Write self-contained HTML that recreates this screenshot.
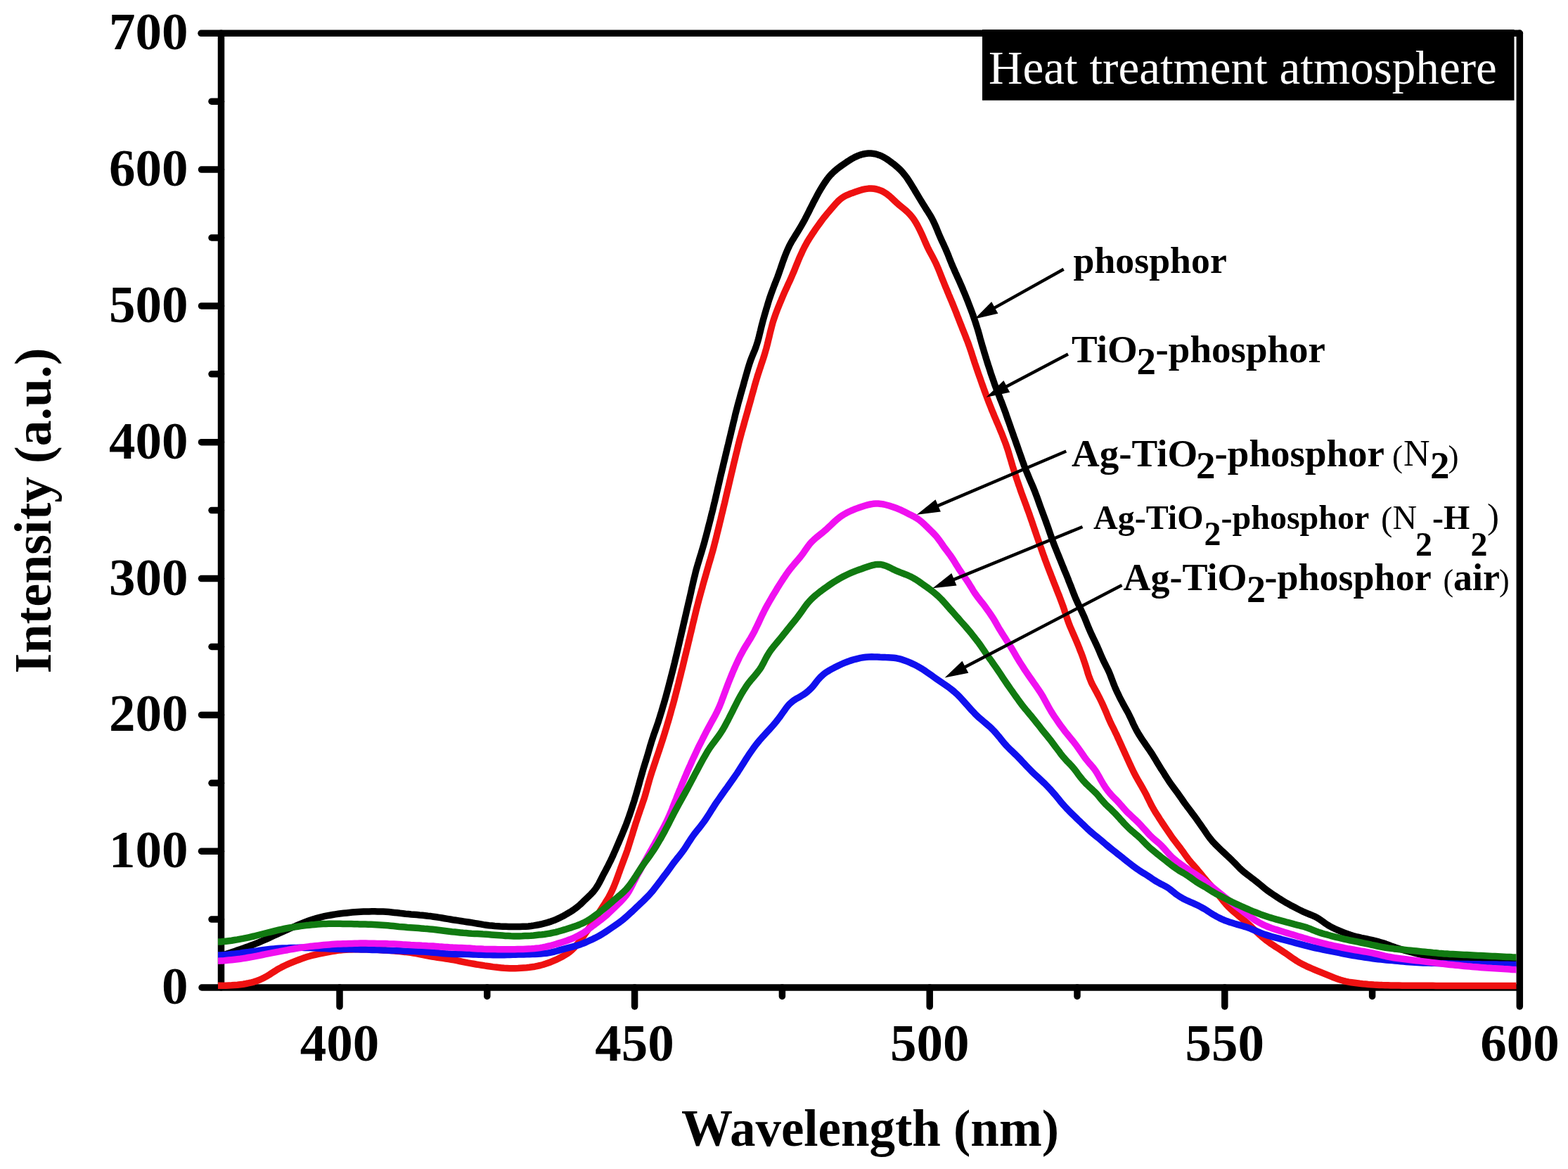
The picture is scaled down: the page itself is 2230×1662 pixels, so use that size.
<!DOCTYPE html>
<html><head><meta charset="utf-8"><title>Heat treatment atmosphere - PL spectra</title>
<style>html,body{margin:0;padding:0;background:#fff;}svg{display:block;}</style></head>
<body>
<svg width="2230" height="1662" viewBox="0 0 2230 1662">
<defs><clipPath id="plotclip"><rect x="310" y="40" width="1846.5" height="1370"/></clipPath></defs>
<rect x="0" y="0" width="2230" height="1662" fill="#ffffff"/>
<g stroke="#000" stroke-width="9.5" stroke-linecap="round" fill="none"><path d="M314.5 47.3 V1404.0" /><path d="M287 1404.0 H2161.3" /><path d="M286 47.3 H2161.3" /><path d="M2161.3 47.3 V1431" /><path d="M286.5 1210.2 H314.5"/><path d="M286.5 1016.4 H314.5"/><path d="M286.5 822.6 H314.5"/><path d="M286.5 628.7 H314.5"/><path d="M286.5 434.9 H314.5"/><path d="M286.5 241.1 H314.5"/><path d="M301 1307.1 H314.5"/><path d="M301 1113.3 H314.5"/><path d="M301 919.5 H314.5"/><path d="M301 725.6 H314.5"/><path d="M301 531.8 H314.5"/><path d="M301 338.0 H314.5"/><path d="M301 144.2 H314.5"/><path d="M483.0 1404.0 V1431"/><path d="M902.6 1404.0 V1431"/><path d="M1322.2 1404.0 V1431"/><path d="M1741.8 1404.0 V1431"/><path d="M692.8 1404.0 V1416.5"/><path d="M1112.4 1404.0 V1416.5"/><path d="M1532.0 1404.0 V1416.5"/><path d="M1951.6 1404.0 V1416.5"/></g>
<g clip-path="url(#plotclip)"><path d="M312.0 1359.0L316.1 1358.1L319.3 1357.2L322.8 1356.1L326.6 1354.9L330.5 1353.5L334.5 1352.2L338.4 1350.8L342.3 1349.5L346.1 1348.1L349.9 1346.7L353.7 1345.4L357.5 1344.0L361.2 1342.6L365.0 1341.1L368.7 1339.6L372.3 1338.0L376.0 1336.4L379.6 1334.8L383.3 1333.1L386.9 1331.5L390.6 1329.8L394.2 1328.2L397.9 1326.5L401.5 1324.9L405.2 1323.2L408.8 1321.6L412.5 1320.0L416.2 1318.4L419.8 1316.8L423.5 1315.2L427.2 1313.7L430.9 1312.2L434.6 1310.7L438.4 1309.3L442.1 1308.0L445.9 1306.7L449.8 1305.6L453.6 1304.6L457.5 1303.6L461.4 1302.7L465.3 1301.9L469.2 1301.2L473.2 1300.5L477.1 1299.9L481.1 1299.3L485.0 1298.8L489.0 1298.3L493.0 1297.9L497.0 1297.5L501.0 1297.1L505.0 1296.8L508.9 1296.5L512.9 1296.3L516.9 1296.1L520.9 1296.0L524.9 1295.9L528.9 1295.8L532.9 1295.8L536.9 1295.9L540.9 1296.0L544.9 1296.1L548.9 1296.3L552.9 1296.6L556.9 1297.0L560.9 1297.4L564.8 1297.8L568.8 1298.3L572.8 1298.7L576.8 1299.2L580.7 1299.6L584.7 1300.0L588.7 1300.3L592.7 1300.6L596.7 1301.0L600.7 1301.3L604.6 1301.7L608.6 1302.2L612.6 1302.6L616.5 1303.2L620.5 1303.8L624.4 1304.4L628.4 1305.0L632.3 1305.7L636.3 1306.4L640.2 1307.0L644.1 1307.7L648.1 1308.3L652.1 1308.9L656.0 1309.5L660.0 1310.1L663.9 1310.7L667.9 1311.3L671.8 1311.9L675.8 1312.6L679.7 1313.2L683.7 1313.9L687.6 1314.6L691.6 1315.2L695.5 1315.7L699.5 1316.1L703.5 1316.5L707.4 1316.7L711.4 1317.0L715.4 1317.2L719.4 1317.3L723.4 1317.4L727.4 1317.5L731.4 1317.5L735.4 1317.5L739.4 1317.4L743.4 1317.3L747.4 1317.2L751.4 1316.9L755.4 1316.5L759.3 1315.9L763.2 1315.2L767.2 1314.5L771.1 1313.6L774.9 1312.6L778.7 1311.6L782.5 1310.4L786.2 1309.1L789.8 1307.7L793.3 1306.1L796.7 1304.5L800.1 1302.8L803.4 1301.0L806.6 1299.1L809.9 1297.2L813.1 1295.2L816.2 1293.1L819.3 1290.9L822.3 1288.5L825.2 1286.0L828.0 1283.3L830.7 1280.7L833.4 1278.1L836.0 1275.6L838.6 1273.1L841.1 1270.6L843.6 1267.9L845.9 1265.1L848.0 1262.1L850.1 1258.8L852.0 1255.5L853.8 1252.0L855.6 1248.5L857.4 1244.9L859.2 1241.4L861.1 1237.9L863.0 1234.3L864.8 1230.8L866.6 1227.2L868.4 1223.6L870.1 1220.0L871.8 1216.4L873.4 1212.7L875.0 1209.1L876.6 1205.4L878.2 1201.7L879.8 1198.0L881.3 1194.4L882.9 1190.7L884.5 1187.0L886.0 1183.3L887.5 1179.6L889.0 1175.9L890.5 1172.2L891.9 1168.4L893.2 1164.7L894.6 1160.9L895.9 1157.1L897.2 1153.3L898.4 1149.5L899.6 1145.7L900.9 1141.9L902.1 1138.1L903.2 1134.3L904.4 1130.4L905.5 1126.6L906.6 1122.8L907.7 1118.9L908.8 1115.1L909.8 1111.2L910.9 1107.3L912.0 1103.5L913.1 1099.6L914.2 1095.8L915.3 1092.0L916.5 1088.1L917.7 1084.3L918.9 1080.5L920.0 1076.7L921.2 1072.8L922.3 1069.0L923.4 1065.2L924.5 1061.3L925.7 1057.5L926.8 1053.7L928.1 1049.9L929.3 1046.1L930.6 1042.3L932.0 1038.5L933.3 1034.7L934.6 1031.0L935.9 1027.2L937.1 1023.4L938.3 1019.6L939.5 1015.7L940.7 1011.9L941.8 1008.1L942.9 1004.2L944.1 1000.4L945.2 996.6L946.3 992.7L947.4 988.9L948.4 985.0L949.5 981.1L950.5 977.3L951.5 973.4L952.5 969.5L953.5 965.7L954.5 961.8L955.5 957.9L956.5 954.0L957.5 950.1L958.4 946.3L959.4 942.4L960.3 938.5L961.2 934.6L962.2 930.7L963.1 926.8L964.0 922.9L964.9 919.0L965.8 915.1L966.7 911.2L967.6 907.3L968.5 903.4L969.4 899.5L970.3 895.6L971.2 891.7L972.1 887.8L973.0 883.9L973.9 880.0L974.8 876.1L975.7 872.2L976.6 868.3L977.5 864.4L978.4 860.5L979.3 856.6L980.2 852.8L981.1 848.9L982.0 845.0L982.9 841.0L983.7 837.1L984.6 833.2L985.5 829.3L986.4 825.4L987.3 821.5L988.3 817.7L989.2 813.8L990.2 809.9L991.3 806.1L992.4 802.2L993.6 798.4L994.7 794.6L995.9 790.7L997.1 786.9L998.2 783.1L999.4 779.2L1000.5 775.4L1001.6 771.6L1002.6 767.7L1003.7 763.8L1004.7 760.0L1005.7 756.1L1006.7 752.2L1007.7 748.3L1008.7 744.5L1009.7 740.6L1010.7 736.7L1011.6 732.8L1012.6 729.0L1013.6 725.1L1014.5 721.2L1015.4 717.3L1016.4 713.4L1017.3 709.5L1018.2 705.6L1019.1 701.7L1020.0 697.8L1020.9 693.9L1021.8 690.0L1022.7 686.1L1023.6 682.2L1024.5 678.3L1025.4 674.4L1026.4 670.5L1027.3 666.6L1028.2 662.8L1029.1 658.9L1030.1 655.0L1031.0 651.1L1031.9 647.2L1032.9 643.3L1033.8 639.4L1034.7 635.5L1035.7 631.6L1036.6 627.7L1037.5 623.9L1038.5 620.0L1039.4 616.1L1040.3 612.2L1041.3 608.3L1042.2 604.4L1043.1 600.5L1044.1 596.6L1045.0 592.7L1045.9 588.8L1046.9 585.0L1047.9 581.1L1048.9 577.2L1049.9 573.4L1051.0 569.5L1052.1 565.6L1053.1 561.8L1054.2 557.9L1055.3 554.1L1056.4 550.2L1057.5 546.4L1058.5 542.5L1059.6 538.7L1060.7 534.8L1061.8 531.0L1062.9 527.1L1064.0 523.3L1065.2 519.4L1066.4 515.6L1067.7 511.9L1069.1 508.2L1070.6 504.5L1072.1 500.9L1073.6 497.3L1075.0 493.6L1076.2 489.9L1077.4 486.1L1078.5 482.3L1079.5 478.4L1080.4 474.5L1081.4 470.6L1082.3 466.7L1083.3 462.8L1084.3 459.0L1085.3 455.1L1086.4 451.2L1087.5 447.4L1088.6 443.6L1089.7 439.7L1090.9 435.9L1092.0 432.1L1093.2 428.2L1094.4 424.4L1095.7 420.6L1097.0 416.9L1098.4 413.1L1099.8 409.4L1101.2 405.6L1102.7 401.9L1104.1 398.2L1105.6 394.5L1107.0 390.7L1108.3 386.9L1109.6 383.2L1110.9 379.4L1112.2 375.6L1113.5 371.8L1114.9 368.0L1116.3 364.3L1117.7 360.6L1119.3 356.9L1120.9 353.2L1122.6 349.6L1124.5 346.1L1126.4 342.6L1128.5 339.2L1130.5 335.8L1132.7 332.4L1134.8 329.0L1136.9 325.6L1138.9 322.2L1140.9 318.7L1142.9 315.2L1144.8 311.7L1146.6 308.1L1148.4 304.6L1150.3 301.0L1152.0 297.4L1153.8 293.9L1155.6 290.3L1157.4 286.7L1159.3 283.2L1161.2 279.6L1163.1 276.1L1165.0 272.6L1167.0 269.2L1169.1 265.7L1171.2 262.3L1173.4 259.0L1175.7 255.7L1178.1 252.5L1180.6 249.5L1183.4 246.6L1186.2 243.9L1189.2 241.3L1192.4 238.8L1195.6 236.4L1198.8 234.1L1202.1 231.8L1205.5 229.5L1208.8 227.4L1212.3 225.3L1215.8 223.4L1219.4 221.8L1223.1 220.4L1226.9 219.2L1230.8 218.5L1234.7 218.1L1238.6 218.1L1242.5 218.5L1246.3 219.2L1250.0 220.4L1253.7 221.9L1257.2 223.7L1260.6 225.8L1263.9 228.0L1267.1 230.4L1270.4 232.8L1273.5 235.3L1276.5 237.9L1279.5 240.6L1282.2 243.4L1284.8 246.4L1287.3 249.5L1289.7 252.7L1291.9 256.0L1294.1 259.4L1296.2 262.8L1298.3 266.2L1300.4 269.6L1302.4 273.1L1304.5 276.5L1306.5 279.9L1308.6 283.4L1310.7 286.8L1312.8 290.2L1314.9 293.6L1317.0 297.0L1319.2 300.3L1321.3 303.7L1323.4 307.1L1325.4 310.6L1327.2 314.1L1328.9 317.7L1330.5 321.3L1332.1 325.0L1333.6 328.7L1335.1 332.4L1336.7 336.1L1338.3 339.7L1340.0 343.4L1341.7 347.0L1343.3 350.6L1345.0 354.3L1346.5 357.9L1348.1 361.6L1349.6 365.4L1351.0 369.1L1352.5 372.8L1354.0 376.5L1355.6 380.2L1357.2 383.8L1358.8 387.5L1360.5 391.1L1362.1 394.8L1363.8 398.4L1365.4 402.1L1367.0 405.7L1368.6 409.4L1370.1 413.1L1371.7 416.8L1373.2 420.5L1374.7 424.2L1376.2 427.9L1377.6 431.6L1379.1 435.4L1380.5 439.1L1381.9 442.9L1383.3 446.6L1384.6 450.4L1385.9 454.2L1387.2 458.0L1388.4 461.8L1389.6 465.6L1390.8 469.4L1391.9 473.3L1393.0 477.1L1394.0 481.0L1395.1 484.8L1396.2 488.6L1397.3 492.5L1398.5 496.3L1399.6 500.2L1400.8 504.0L1401.9 507.8L1403.1 511.6L1404.3 515.5L1405.5 519.3L1406.8 523.1L1408.0 526.9L1409.2 530.7L1410.5 534.5L1411.8 538.3L1413.1 542.0L1414.4 545.8L1415.8 549.6L1417.2 553.3L1418.6 557.1L1420.1 560.8L1421.6 564.5L1423.0 568.2L1424.5 571.9L1425.9 575.7L1427.3 579.4L1428.7 583.2L1430.1 586.9L1431.4 590.7L1432.7 594.5L1434.1 598.3L1435.4 602.0L1436.7 605.8L1438.0 609.6L1439.4 613.4L1440.7 617.1L1442.0 620.9L1443.4 624.7L1444.7 628.4L1446.0 632.2L1447.4 636.0L1448.7 639.8L1450.0 643.5L1451.4 647.3L1452.7 651.1L1454.0 654.9L1455.4 658.6L1456.7 662.4L1458.1 666.1L1459.6 669.8L1461.1 673.5L1462.7 677.2L1464.2 680.9L1465.8 684.6L1467.4 688.2L1469.0 691.9L1470.5 695.6L1472.0 699.3L1473.4 703.1L1474.8 706.8L1476.2 710.6L1477.5 714.4L1478.8 718.1L1480.2 721.9L1481.6 725.6L1483.0 729.4L1484.4 733.1L1485.8 736.9L1487.2 740.6L1488.5 744.4L1489.9 748.2L1491.2 751.9L1492.5 755.7L1493.8 759.5L1495.1 763.3L1496.4 767.1L1497.8 770.8L1499.2 774.5L1500.7 778.3L1502.2 782.0L1503.7 785.7L1505.2 789.4L1506.7 793.1L1508.2 796.8L1509.7 800.5L1511.2 804.2L1512.7 807.9L1514.2 811.6L1515.8 815.3L1517.3 819.0L1518.8 822.7L1520.2 826.5L1521.7 830.2L1523.2 833.9L1524.6 837.6L1526.1 841.4L1527.5 845.1L1529.0 848.8L1530.6 852.5L1532.2 856.1L1533.9 859.7L1535.6 863.3L1537.3 866.9L1539.0 870.5L1540.7 874.2L1542.3 877.8L1543.8 881.5L1545.3 885.2L1546.8 889.0L1548.3 892.6L1549.9 896.3L1551.5 900.0L1553.2 903.6L1554.9 907.2L1556.6 910.8L1558.3 914.4L1560.0 918.0L1561.6 921.7L1563.2 925.3L1564.7 929.0L1566.3 932.7L1567.9 936.3L1569.6 940.0L1571.4 943.5L1573.2 947.1L1575.0 950.7L1576.7 954.2L1578.3 957.9L1579.7 961.5L1581.1 965.2L1582.5 968.9L1583.9 972.6L1585.4 976.3L1587.0 980.0L1588.6 983.6L1590.4 987.2L1592.1 990.8L1593.9 994.3L1595.8 997.9L1597.6 1001.4L1599.5 1004.8L1601.5 1008.3L1603.4 1011.7L1605.2 1015.2L1607.0 1018.8L1608.7 1022.3L1610.3 1025.9L1611.9 1029.5L1613.7 1033.1L1615.5 1036.7L1617.4 1040.1L1619.4 1043.6L1621.5 1046.9L1623.7 1050.3L1625.9 1053.6L1628.1 1056.8L1630.3 1060.1L1632.5 1063.2L1634.7 1066.4L1636.8 1069.5L1638.9 1072.7L1640.9 1075.9L1642.9 1079.2L1644.8 1082.5L1646.8 1085.8L1648.8 1089.0L1650.8 1092.3L1652.9 1095.5L1655.0 1098.8L1657.0 1102.1L1659.2 1105.5L1661.3 1108.8L1663.5 1112.1L1665.8 1115.4L1668.2 1118.6L1670.6 1121.8L1672.9 1125.0L1675.3 1128.2L1677.6 1131.5L1679.9 1134.7L1682.1 1138.0L1684.4 1141.3L1686.8 1144.5L1689.1 1147.7L1691.6 1150.9L1694.0 1154.1L1696.4 1157.3L1698.7 1160.4L1701.0 1163.5L1703.1 1166.5L1705.1 1169.4L1707.0 1172.1L1708.9 1174.8L1710.7 1177.4L1712.6 1180.1L1714.5 1182.9L1716.5 1185.9L1718.6 1188.9L1720.9 1191.9L1723.3 1194.8L1725.9 1197.8L1728.6 1200.6L1731.4 1203.4L1734.2 1206.1L1737.0 1208.8L1739.9 1211.5L1742.8 1214.2L1745.6 1216.9L1748.4 1219.5L1751.2 1222.2L1754.0 1225.0L1756.7 1227.7L1759.4 1230.5L1762.1 1233.3L1764.9 1236.0L1767.8 1238.6L1770.8 1241.1L1773.9 1243.5L1777.0 1245.8L1780.1 1248.2L1783.2 1250.5L1786.3 1252.9L1789.3 1255.4L1792.4 1257.9L1795.4 1260.4L1798.4 1262.9L1801.5 1265.3L1804.7 1267.6L1807.9 1269.9L1811.2 1272.1L1814.5 1274.3L1817.8 1276.5L1821.2 1278.6L1824.6 1280.7L1828.0 1282.8L1831.4 1284.7L1834.9 1286.7L1838.4 1288.5L1841.9 1290.3L1845.3 1292.1L1848.8 1293.9L1852.2 1295.6L1855.7 1297.1L1859.2 1298.6L1862.6 1300.0L1866.1 1301.4L1869.4 1302.8L1872.7 1304.5L1875.8 1306.4L1878.9 1308.5L1881.9 1310.7L1884.9 1312.8L1888.0 1314.9L1891.3 1316.9L1894.8 1318.7L1898.4 1320.5L1902.0 1322.1L1905.7 1323.7L1909.4 1325.2L1913.2 1326.6L1916.9 1328.0L1920.7 1329.3L1924.5 1330.5L1928.4 1331.6L1932.3 1332.5L1936.1 1333.4L1940.1 1334.2L1944.0 1335.0L1947.9 1335.8L1951.8 1336.7L1955.7 1337.6L1959.6 1338.6L1963.4 1339.7L1967.2 1340.9L1971.0 1342.1L1974.8 1343.5L1978.5 1344.9L1982.3 1346.2L1986.0 1347.6L1989.8 1348.8L1993.7 1350.0L1997.5 1351.1L2001.3 1352.2L2005.2 1353.2L2009.1 1354.2L2013.0 1355.2L2016.8 1356.2L2020.7 1357.1L2024.6 1358.0L2028.5 1358.9L2032.5 1359.6L2036.4 1360.3L2040.3 1360.8L2044.3 1361.3L2048.3 1361.8L2052.3 1362.2L2056.2 1362.5L2060.2 1362.9L2064.2 1363.3L2068.2 1363.6L2072.2 1364.0L2076.2 1364.4L2080.2 1364.7L2084.1 1365.1L2088.1 1365.4L2092.1 1365.7L2096.1 1366.0L2100.1 1366.4L2104.1 1366.7L2108.1 1367.0L2112.1 1367.3L2116.1 1367.6L2120.1 1367.9L2124.1 1368.2L2128.2 1368.4L2132.3 1368.6L2136.4 1368.8L2140.6 1368.9L2144.7 1369.1L2148.7 1369.2L2152.5 1369.3L2155.8 1369.4L2160.0 1369.5L2160.0 1369.5" stroke="#000000" stroke-width="9.5" fill="none" stroke-linejoin="round" stroke-linecap="butt"/><path d="M310.0 1401.3L314.2 1401.3L317.5 1401.3L321.3 1401.2L325.3 1401.0L329.4 1400.8L333.6 1400.5L337.7 1400.2L341.8 1399.7L345.8 1399.2L349.8 1398.5L353.8 1397.7L357.7 1396.8L361.5 1395.8L365.3 1394.5L369.0 1393.1L372.6 1391.5L376.2 1389.7L379.7 1387.8L383.1 1385.7L386.4 1383.5L389.8 1381.4L393.2 1379.2L396.6 1377.2L400.1 1375.3L403.6 1373.5L407.3 1371.8L410.9 1370.2L414.6 1368.7L418.3 1367.2L422.1 1365.7L425.8 1364.3L429.5 1362.9L433.3 1361.5L437.1 1360.3L440.9 1359.2L444.8 1358.2L448.6 1357.3L452.6 1356.4L456.5 1355.6L460.4 1354.8L464.3 1354.1L468.3 1353.3L472.2 1352.6L476.2 1352.0L480.1 1351.4L484.1 1350.9L488.1 1350.6L492.0 1350.3L496.0 1350.0L500.0 1349.9L504.0 1349.8L508.0 1349.7L512.0 1349.7L516.0 1349.7L520.0 1349.8L524.0 1349.8L528.0 1350.0L532.0 1350.1L536.0 1350.3L540.0 1350.4L544.0 1350.7L548.0 1350.9L552.0 1351.2L556.0 1351.5L560.0 1351.8L564.0 1352.2L568.0 1352.6L572.0 1353.0L576.0 1353.4L579.9 1353.9L583.9 1354.4L587.8 1355.0L591.6 1355.6L595.4 1356.3L599.1 1357.1L602.9 1357.8L606.6 1358.6L610.4 1359.3L614.3 1360.0L618.2 1360.6L622.1 1361.2L626.1 1361.8L630.1 1362.4L634.0 1363.0L638.0 1363.6L641.9 1364.2L645.9 1364.9L649.8 1365.7L653.7 1366.5L657.6 1367.3L661.5 1368.1L665.4 1368.9L669.4 1369.6L673.3 1370.3L677.2 1371.0L681.2 1371.6L685.1 1372.2L689.1 1372.9L693.1 1373.5L697.0 1374.0L701.0 1374.6L705.0 1375.1L708.9 1375.5L712.9 1375.9L716.9 1376.3L720.9 1376.5L724.9 1376.7L728.9 1376.7L732.9 1376.7L736.9 1376.6L740.9 1376.3L744.9 1376.0L748.8 1375.7L752.8 1375.3L756.7 1374.8L760.7 1374.2L764.5 1373.4L768.4 1372.5L772.2 1371.5L775.9 1370.3L779.6 1369.0L783.3 1367.7L786.9 1366.2L790.4 1364.7L793.9 1363.0L797.3 1361.3L800.7 1359.5L804.0 1357.5L807.3 1355.4L810.4 1353.1L813.4 1350.6L816.2 1347.9L818.8 1344.9L821.4 1341.9L823.9 1338.7L826.3 1335.5L828.7 1332.3L831.1 1329.1L833.4 1325.8L835.7 1322.5L838.0 1319.2L840.2 1315.9L842.4 1312.5L844.5 1309.2L846.6 1305.8L848.8 1302.4L850.9 1299.0L853.1 1295.6L855.2 1292.3L857.4 1288.9L859.6 1285.5L861.7 1282.1L863.8 1278.7L865.8 1275.3L867.7 1271.8L869.5 1268.2L871.2 1264.6L872.8 1261.0L874.3 1257.3L875.8 1253.5L877.2 1249.8L878.6 1246.0L879.9 1242.3L881.3 1238.5L882.6 1234.7L884.0 1231.0L885.4 1227.3L886.8 1223.5L888.2 1219.8L889.6 1216.0L891.0 1212.3L892.3 1208.5L893.5 1204.7L894.7 1200.9L895.9 1197.1L897.1 1193.2L898.3 1189.4L899.5 1185.6L900.6 1181.8L901.8 1178.0L903.0 1174.1L904.2 1170.3L905.5 1166.5L906.7 1162.7L908.0 1158.9L909.3 1155.1L910.6 1151.3L911.9 1147.6L913.2 1143.8L914.5 1140.0L915.8 1136.2L917.0 1132.4L918.1 1128.6L919.2 1124.7L920.3 1120.9L921.3 1117.0L922.4 1113.1L923.5 1109.3L924.6 1105.5L925.8 1101.6L927.0 1097.8L928.3 1094.0L929.5 1090.2L930.8 1086.4L932.1 1082.6L933.3 1078.8L934.6 1075.1L935.9 1071.3L937.2 1067.5L938.4 1063.7L939.7 1059.9L940.9 1056.1L942.2 1052.3L943.4 1048.4L944.6 1044.6L945.8 1040.8L946.9 1037.0L948.1 1033.2L949.2 1029.3L950.4 1025.5L951.5 1021.6L952.6 1017.8L953.7 1013.9L954.7 1010.1L955.8 1006.2L956.9 1002.4L958.0 998.5L959.0 994.7L960.0 990.8L961.0 986.9L962.0 983.0L963.0 979.2L964.0 975.3L965.0 971.4L965.9 967.5L966.9 963.6L967.9 959.7L968.8 955.9L969.8 952.0L970.8 948.1L971.7 944.2L972.7 940.3L973.6 936.4L974.5 932.5L975.5 928.7L976.4 924.8L977.4 920.9L978.3 917.0L979.2 913.1L980.2 909.2L981.1 905.3L982.0 901.4L983.0 897.5L983.9 893.6L984.8 889.7L985.7 885.8L986.7 882.0L987.6 878.1L988.5 874.2L989.5 870.3L990.4 866.4L991.4 862.5L992.4 858.6L993.4 854.8L994.4 850.9L995.5 847.0L996.5 843.2L997.6 839.3L998.7 835.5L999.7 831.6L1000.8 827.8L1001.9 823.9L1003.0 820.1L1004.1 816.2L1005.2 812.4L1006.3 808.5L1007.4 804.7L1008.5 800.8L1009.7 797.0L1010.8 793.2L1011.9 789.3L1013.0 785.5L1014.1 781.6L1015.1 777.7L1016.1 773.9L1017.1 770.0L1018.1 766.1L1019.1 762.2L1020.0 758.3L1021.0 754.5L1021.9 750.6L1022.9 746.7L1023.8 742.8L1024.8 738.9L1025.7 735.0L1026.6 731.1L1027.6 727.2L1028.5 723.4L1029.4 719.5L1030.4 715.6L1031.3 711.7L1032.2 707.8L1033.1 703.9L1034.0 700.0L1034.9 696.1L1035.9 692.2L1036.8 688.3L1037.7 684.4L1038.6 680.5L1039.5 676.6L1040.4 672.7L1041.4 668.8L1042.3 664.9L1043.2 661.0L1044.1 657.1L1045.1 653.3L1046.0 649.4L1046.9 645.5L1047.9 641.6L1048.8 637.7L1049.8 633.8L1050.7 629.9L1051.7 626.0L1052.7 622.2L1053.8 618.3L1054.8 614.4L1055.9 610.6L1057.0 606.7L1058.1 602.9L1059.1 599.0L1060.2 595.2L1061.3 591.3L1062.4 587.5L1063.5 583.6L1064.5 579.8L1065.6 575.9L1066.7 572.1L1067.8 568.2L1068.8 564.4L1069.9 560.5L1071.0 556.6L1072.1 552.8L1073.1 548.9L1074.2 545.1L1075.3 541.2L1076.5 537.4L1077.6 533.6L1078.9 529.8L1080.1 526.0L1081.4 522.2L1082.6 518.4L1083.9 514.6L1085.2 510.8L1086.4 507.0L1087.6 503.1L1088.7 499.3L1089.8 495.5L1090.8 491.6L1091.8 487.7L1092.7 483.8L1093.7 479.9L1094.6 476.0L1095.5 472.2L1096.5 468.3L1097.5 464.4L1098.5 460.5L1099.6 456.7L1100.9 452.9L1102.2 449.1L1103.5 445.4L1105.0 441.6L1106.4 437.9L1107.9 434.2L1109.4 430.5L1111.0 426.8L1112.5 423.1L1114.1 419.4L1115.7 415.7L1117.3 412.1L1119.0 408.5L1120.6 404.8L1122.3 401.2L1124.0 397.6L1125.6 393.9L1127.2 390.2L1128.8 386.5L1130.3 382.9L1131.8 379.1L1133.3 375.4L1134.8 371.7L1136.3 368.0L1137.9 364.4L1139.6 360.7L1141.2 357.1L1143.0 353.5L1144.8 349.9L1146.7 346.4L1148.7 342.9L1150.8 339.5L1152.9 336.2L1155.1 332.8L1157.4 329.5L1159.6 326.2L1161.9 322.9L1164.2 319.7L1166.6 316.4L1168.9 313.2L1171.3 310.0L1173.8 306.9L1176.4 303.8L1179.0 300.7L1181.6 297.7L1184.2 294.7L1186.8 291.7L1189.4 288.7L1192.1 285.9L1195.0 283.3L1198.0 281.0L1201.2 279.0L1204.7 277.3L1208.3 275.8L1212.1 274.4L1215.9 273.1L1219.7 271.8L1223.5 270.5L1227.3 269.4L1231.2 268.6L1235.1 268.1L1238.9 268.0L1242.8 268.3L1246.7 269.0L1250.4 270.1L1254.1 271.5L1257.6 273.4L1260.9 275.5L1264.0 277.9L1267.0 280.5L1269.9 283.2L1272.8 286.0L1275.7 288.7L1278.7 291.3L1281.8 293.9L1284.9 296.4L1287.9 298.9L1290.8 301.5L1293.6 304.3L1296.2 307.3L1298.6 310.4L1300.8 313.7L1302.9 317.1L1304.9 320.6L1306.7 324.1L1308.5 327.7L1310.2 331.3L1311.9 335.0L1313.5 338.6L1315.1 342.3L1316.7 346.0L1318.3 349.6L1320.0 353.2L1321.8 356.8L1323.7 360.3L1325.6 363.8L1327.5 367.4L1329.3 370.9L1331.1 374.5L1332.7 378.1L1334.3 381.8L1335.8 385.5L1337.3 389.2L1338.7 392.9L1340.2 396.6L1341.7 400.3L1343.2 404.0L1344.7 407.8L1346.3 411.4L1347.8 415.1L1349.3 418.8L1350.9 422.5L1352.4 426.2L1354.0 429.9L1355.5 433.6L1357.0 437.3L1358.5 441.0L1360.0 444.7L1361.4 448.5L1362.9 452.2L1364.3 455.9L1365.8 459.7L1367.3 463.4L1368.7 467.1L1370.2 470.8L1371.7 474.5L1373.2 478.3L1374.6 482.0L1376.1 485.7L1377.5 489.5L1378.8 493.2L1380.1 497.0L1381.4 500.8L1382.6 504.6L1383.8 508.4L1385.1 512.2L1386.3 516.0L1387.6 519.8L1388.9 523.6L1390.2 527.4L1391.5 531.2L1392.8 534.9L1394.2 538.7L1395.5 542.5L1396.8 546.3L1398.2 550.0L1399.5 553.8L1400.9 557.5L1402.3 561.3L1403.7 565.1L1405.1 568.8L1406.5 572.5L1408.0 576.3L1409.5 580.0L1410.9 583.7L1412.5 587.4L1414.0 591.1L1415.6 594.8L1417.1 598.5L1418.7 602.1L1420.3 605.8L1421.8 609.5L1423.3 613.2L1424.9 616.9L1426.3 620.6L1427.8 624.4L1429.2 628.1L1430.6 631.8L1431.9 635.6L1433.2 639.4L1434.4 643.2L1435.5 647.1L1436.6 650.9L1437.8 654.7L1438.9 658.6L1440.0 662.4L1441.2 666.2L1442.4 670.1L1443.6 673.9L1444.9 677.7L1446.1 681.5L1447.4 685.3L1448.7 689.1L1450.0 692.8L1451.3 696.6L1452.6 700.4L1454.0 704.2L1455.4 707.9L1456.8 711.7L1458.2 715.4L1459.6 719.2L1460.9 722.9L1462.3 726.7L1463.7 730.4L1465.0 734.2L1466.3 738.0L1467.7 741.8L1468.9 745.6L1470.2 749.3L1471.5 753.1L1472.8 756.9L1474.1 760.7L1475.4 764.5L1476.7 768.3L1478.0 772.1L1479.3 775.8L1480.7 779.6L1482.0 783.4L1483.3 787.2L1484.7 790.9L1486.0 794.7L1487.4 798.4L1488.8 802.2L1490.2 805.9L1491.7 809.7L1493.1 813.4L1494.6 817.1L1496.0 820.9L1497.5 824.6L1498.9 828.3L1500.4 832.0L1501.9 835.8L1503.3 839.5L1504.8 843.2L1506.3 846.9L1507.7 850.7L1509.1 854.4L1510.5 858.1L1511.9 861.9L1513.2 865.7L1514.4 869.5L1515.7 873.3L1516.9 877.1L1518.2 880.9L1519.5 884.6L1520.9 888.4L1522.4 892.0L1524.0 895.7L1525.6 899.4L1527.2 903.0L1528.8 906.7L1530.4 910.4L1532.0 914.1L1533.5 917.8L1535.0 921.5L1536.4 925.2L1537.9 928.9L1539.3 932.7L1540.6 936.4L1541.9 940.2L1543.2 944.0L1544.4 947.8L1545.6 951.7L1546.7 955.5L1547.9 959.3L1549.2 963.0L1550.7 966.7L1552.2 970.3L1553.9 973.8L1555.8 977.2L1557.6 980.6L1559.5 984.0L1561.3 987.5L1563.1 990.9L1564.9 994.5L1566.6 998.0L1568.3 1001.6L1569.9 1005.2L1571.5 1008.9L1573.1 1012.5L1574.6 1016.2L1576.1 1019.8L1577.7 1023.5L1579.3 1027.1L1581.0 1030.6L1582.8 1034.2L1584.6 1037.7L1586.3 1041.3L1588.1 1044.9L1589.7 1048.6L1591.4 1052.2L1593.0 1055.9L1594.7 1059.5L1596.3 1063.1L1598.0 1066.8L1599.6 1070.4L1601.3 1074.0L1603.0 1077.7L1604.6 1081.3L1606.3 1085.0L1608.0 1088.6L1609.7 1092.2L1611.4 1095.8L1613.2 1099.4L1615.0 1102.9L1616.9 1106.3L1618.8 1109.7L1620.8 1113.1L1622.8 1116.5L1624.7 1119.9L1626.6 1123.3L1628.5 1126.8L1630.4 1130.3L1632.1 1133.9L1633.9 1137.5L1635.7 1141.1L1637.4 1144.6L1639.3 1148.0L1641.2 1151.4L1643.2 1154.7L1645.3 1158.0L1647.4 1161.2L1649.4 1164.5L1651.5 1167.7L1653.7 1171.0L1655.9 1174.2L1658.0 1177.4L1660.2 1180.6L1662.4 1183.8L1664.5 1186.9L1666.7 1190.1L1668.9 1193.2L1671.2 1196.2L1673.5 1199.2L1675.9 1202.2L1678.3 1205.2L1680.6 1208.4L1682.9 1211.6L1685.2 1214.9L1687.5 1218.1L1689.8 1221.2L1692.2 1224.2L1694.6 1227.0L1697.0 1229.7L1699.4 1232.4L1701.8 1235.1L1704.1 1237.9L1706.5 1240.8L1709.0 1243.8L1711.5 1246.9L1714.0 1249.9L1716.6 1253.0L1719.2 1256.0L1721.9 1259.0L1724.5 1262.1L1727.1 1265.1L1729.6 1268.2L1732.1 1271.3L1734.6 1274.5L1737.1 1277.6L1739.5 1280.7L1742.1 1283.8L1744.7 1286.8L1747.4 1289.6L1750.3 1292.4L1753.2 1295.1L1756.3 1297.7L1759.3 1300.2L1762.4 1302.7L1765.5 1305.3L1768.6 1307.8L1771.6 1310.4L1774.6 1313.1L1777.6 1315.8L1780.5 1318.5L1783.3 1321.3L1786.2 1324.0L1789.2 1326.8L1792.1 1329.5L1795.1 1332.1L1798.2 1334.7L1801.3 1337.2L1804.5 1339.5L1807.7 1341.8L1811.1 1344.0L1814.4 1346.2L1817.8 1348.3L1821.2 1350.5L1824.5 1352.7L1827.9 1354.9L1831.1 1357.2L1834.4 1359.5L1837.7 1361.8L1841.0 1364.0L1844.3 1366.2L1847.7 1368.3L1851.2 1370.2L1854.8 1372.0L1858.4 1373.8L1862.0 1375.4L1865.7 1377.0L1869.4 1378.6L1873.0 1380.1L1876.8 1381.7L1880.5 1383.2L1884.2 1384.7L1887.9 1386.2L1891.6 1387.7L1895.3 1389.2L1899.0 1390.6L1902.8 1392.0L1906.6 1393.2L1910.4 1394.3L1914.3 1395.3L1918.2 1396.1L1922.1 1396.7L1926.1 1397.3L1930.0 1397.8L1934.0 1398.3L1938.0 1398.7L1942.0 1399.0L1946.0 1399.4L1950.0 1399.7L1953.9 1400.0L1957.9 1400.2L1961.9 1400.4L1965.9 1400.6L1969.9 1400.7L1973.9 1400.8L1977.9 1400.9L1981.9 1401.0L1985.9 1401.1L1989.9 1401.1L1993.9 1401.2L1997.9 1401.2L2001.9 1401.3L2005.9 1401.3L2009.9 1401.3L2013.9 1401.3L2017.9 1401.3L2021.9 1401.3L2025.9 1401.3L2029.9 1401.3L2034.0 1401.3L2038.0 1401.3L2042.0 1401.4L2046.0 1401.4L2050.0 1401.4L2054.0 1401.4L2058.0 1401.4L2062.0 1401.4L2066.0 1401.4L2070.0 1401.4L2074.0 1401.4L2078.0 1401.4L2082.0 1401.4L2086.0 1401.4L2090.0 1401.4L2094.0 1401.4L2098.0 1401.4L2102.0 1401.4L2106.0 1401.4L2110.0 1401.4L2114.0 1401.4L2118.0 1401.4L2122.1 1401.5L2126.1 1401.5L2130.2 1401.5L2134.3 1401.5L2138.5 1401.5L2142.7 1401.5L2146.8 1401.5L2150.6 1401.5L2154.2 1401.5L2157.3 1401.5L2160.0 1401.5" stroke="#ee1111" stroke-width="9.5" fill="none" stroke-linejoin="round" stroke-linecap="butt"/><path d="M310.0 1358.0L314.2 1357.9L317.5 1357.7L321.2 1357.4L325.2 1357.0L329.3 1356.6L333.5 1356.1L337.6 1355.6L341.7 1355.1L345.7 1354.5L349.7 1354.0L353.7 1353.5L357.7 1352.9L361.7 1352.4L365.6 1351.9L369.6 1351.3L373.6 1350.8L377.5 1350.3L381.5 1349.8L385.5 1349.3L389.5 1348.9L393.4 1348.6L397.4 1348.3L401.4 1348.1L405.4 1347.9L409.4 1347.8L413.4 1347.6L417.4 1347.5L421.4 1347.4L425.4 1347.3L429.4 1347.3L433.4 1347.4L437.4 1347.4L441.4 1347.6L445.4 1347.8L449.4 1348.0L453.4 1348.2L457.4 1348.4L461.4 1348.6L465.4 1348.8L469.4 1349.0L473.4 1349.1L477.4 1349.2L481.4 1349.3L485.4 1349.4L489.4 1349.5L493.4 1349.5L497.4 1349.6L501.4 1349.6L505.4 1349.7L509.4 1349.8L513.4 1349.9L517.4 1350.0L521.4 1350.1L525.4 1350.2L529.4 1350.4L533.4 1350.5L537.4 1350.6L541.4 1350.8L545.4 1350.9L549.4 1351.1L553.4 1351.2L557.4 1351.4L561.4 1351.5L565.4 1351.7L569.4 1351.8L573.4 1352.0L577.4 1352.2L581.4 1352.3L585.4 1352.5L589.4 1352.6L593.4 1352.8L597.4 1352.9L601.4 1353.1L605.4 1353.3L609.3 1353.6L613.3 1353.9L617.3 1354.2L621.3 1354.6L625.3 1355.0L629.3 1355.4L633.2 1355.8L637.2 1356.1L641.2 1356.3L645.2 1356.4L649.2 1356.5L653.2 1356.5L657.2 1356.5L661.2 1356.5L665.2 1356.6L669.2 1356.7L673.2 1356.9L677.2 1357.0L681.2 1357.2L685.2 1357.3L689.2 1357.4L693.2 1357.5L697.2 1357.6L701.2 1357.7L705.2 1357.8L709.2 1357.8L713.2 1357.8L717.2 1357.7L721.2 1357.6L725.2 1357.5L729.1 1357.3L733.1 1357.2L737.1 1357.0L741.1 1357.0L745.1 1356.9L749.1 1356.8L753.1 1356.7L757.2 1356.6L761.2 1356.5L765.2 1356.3L769.1 1356.0L773.1 1355.6L777.0 1355.2L780.9 1354.6L784.6 1353.8L788.4 1353.0L792.1 1352.0L795.8 1350.9L799.5 1349.9L803.3 1348.9L807.1 1347.9L811.0 1346.9L814.8 1345.9L818.6 1344.9L822.4 1343.7L826.2 1342.4L829.9 1341.0L833.5 1339.5L837.2 1337.8L840.8 1336.2L844.4 1334.4L848.0 1332.7L851.5 1330.8L854.9 1328.8L858.3 1326.7L861.7 1324.6L865.0 1322.3L868.3 1320.1L871.6 1317.9L874.9 1315.6L878.1 1313.4L881.3 1311.1L884.4 1308.7L887.5 1306.2L890.5 1303.6L893.4 1301.0L896.3 1298.3L899.3 1295.6L902.2 1292.8L905.1 1290.1L908.0 1287.3L910.9 1284.6L913.8 1281.8L916.7 1279.0L919.5 1276.2L922.3 1273.4L925.0 1270.4L927.6 1267.4L930.1 1264.3L932.5 1261.2L934.9 1258.0L937.3 1254.8L939.8 1251.6L942.2 1248.4L944.6 1245.2L947.0 1242.1L949.4 1238.9L951.7 1235.7L954.0 1232.5L956.3 1229.3L958.6 1226.2L961.0 1223.1L963.4 1220.0L965.9 1216.9L968.3 1213.8L970.8 1210.6L973.1 1207.4L975.3 1204.1L977.5 1200.7L979.6 1197.3L981.8 1194.0L984.0 1190.7L986.3 1187.4L988.7 1184.2L991.2 1181.1L993.7 1178.0L996.2 1174.8L998.6 1171.7L1001.0 1168.5L1003.3 1165.2L1005.5 1161.9L1007.7 1158.5L1009.8 1155.2L1011.9 1151.8L1014.1 1148.4L1016.2 1145.0L1018.4 1141.7L1020.7 1138.4L1023.0 1135.1L1025.3 1131.8L1027.6 1128.5L1029.9 1125.3L1032.2 1122.0L1034.6 1118.8L1036.9 1115.5L1039.2 1112.3L1041.5 1109.0L1043.8 1105.7L1046.1 1102.4L1048.4 1099.1L1050.5 1095.8L1052.7 1092.4L1054.8 1089.0L1057.0 1085.6L1059.1 1082.2L1061.2 1078.9L1063.4 1075.5L1065.6 1072.2L1067.9 1068.9L1070.2 1065.6L1072.5 1062.3L1074.9 1059.2L1077.4 1056.0L1079.9 1052.9L1082.6 1049.9L1085.2 1046.9L1087.9 1044.0L1090.6 1041.1L1093.4 1038.1L1096.0 1035.1L1098.7 1032.1L1101.3 1029.1L1103.9 1026.0L1106.3 1022.9L1108.8 1019.7L1111.1 1016.4L1113.4 1013.1L1115.7 1009.9L1118.0 1006.6L1120.4 1003.6L1123.0 1000.7L1125.8 998.2L1128.9 995.8L1132.1 993.7L1135.5 991.8L1139.0 989.8L1142.4 987.7L1145.7 985.5L1148.8 983.0L1151.7 980.4L1154.5 977.6L1157.1 974.6L1159.5 971.5L1161.9 968.4L1164.3 965.4L1167.0 962.5L1169.8 959.9L1172.8 957.4L1176.0 955.2L1179.4 953.1L1182.9 951.2L1186.4 949.3L1190.0 947.5L1193.6 945.7L1197.3 944.0L1201.0 942.4L1204.7 941.0L1208.4 939.6L1212.2 938.4L1216.1 937.3L1220.0 936.3L1223.9 935.4L1227.8 934.8L1231.7 934.2L1235.7 933.9L1239.7 933.8L1243.6 933.9L1247.6 934.0L1251.6 934.3L1255.5 934.4L1259.5 934.6L1263.4 934.7L1267.3 934.9L1271.2 935.3L1275.1 935.8L1278.9 936.7L1282.7 937.7L1286.4 939.0L1290.2 940.4L1293.9 941.9L1297.6 943.6L1301.2 945.3L1304.7 947.1L1308.2 949.1L1311.6 951.1L1314.9 953.3L1318.2 955.6L1321.5 957.9L1324.8 960.2L1328.0 962.5L1331.3 964.8L1334.6 967.1L1337.9 969.4L1341.2 971.6L1344.5 973.9L1347.8 976.2L1351.0 978.5L1354.2 981.0L1357.2 983.5L1360.2 986.2L1363.0 988.9L1365.8 991.8L1368.5 994.7L1371.2 997.7L1373.9 1000.7L1376.5 1003.7L1379.2 1006.7L1381.9 1009.7L1384.6 1012.6L1387.3 1015.5L1390.2 1018.2L1393.1 1020.9L1396.1 1023.4L1399.1 1026.0L1402.1 1028.5L1405.1 1031.1L1408.1 1033.7L1411.0 1036.5L1413.7 1039.3L1416.4 1042.3L1419.0 1045.3L1421.6 1048.4L1424.0 1051.5L1426.5 1054.6L1429.1 1057.6L1431.7 1060.5L1434.4 1063.3L1437.2 1066.1L1440.1 1068.8L1442.9 1071.5L1445.8 1074.2L1448.6 1077.1L1451.3 1079.9L1454.1 1082.9L1456.8 1085.8L1459.5 1088.7L1462.2 1091.5L1464.9 1094.3L1467.7 1097.1L1470.5 1099.8L1473.4 1102.5L1476.2 1105.1L1479.1 1107.8L1482.0 1110.5L1484.9 1113.2L1487.7 1116.0L1490.4 1118.8L1493.2 1121.7L1495.8 1124.7L1498.5 1127.7L1501.1 1130.7L1503.6 1133.7L1506.1 1136.8L1508.6 1139.9L1511.2 1143.0L1513.8 1145.9L1516.5 1148.9L1519.3 1151.8L1522.1 1154.6L1524.9 1157.4L1527.8 1160.2L1530.7 1163.0L1533.6 1165.8L1536.5 1168.5L1539.3 1171.3L1542.2 1174.0L1545.1 1176.8L1547.9 1179.5L1550.8 1182.1L1553.7 1184.6L1556.7 1187.1L1559.7 1189.5L1562.7 1191.9L1565.7 1194.4L1568.6 1196.9L1571.6 1199.5L1574.6 1202.0L1577.6 1204.5L1580.7 1207.0L1583.7 1209.4L1586.8 1211.8L1589.8 1214.2L1592.8 1216.5L1595.9 1218.9L1598.8 1221.3L1601.8 1223.7L1604.8 1226.1L1607.9 1228.5L1610.9 1230.9L1614.0 1233.1L1617.1 1235.3L1620.2 1237.4L1623.3 1239.4L1626.4 1241.4L1629.5 1243.3L1632.6 1245.2L1635.6 1247.2L1638.6 1249.3L1641.7 1251.4L1644.9 1253.4L1648.1 1255.2L1651.4 1257.0L1654.7 1258.6L1657.8 1260.2L1660.8 1262.0L1663.6 1264.0L1666.4 1266.2L1669.2 1268.4L1672.1 1270.8L1675.2 1273.0L1678.4 1275.2L1681.9 1277.2L1685.4 1279.0L1689.0 1280.7L1692.7 1282.3L1696.4 1283.9L1700.1 1285.6L1703.7 1287.3L1707.2 1289.1L1710.6 1291.0L1714.0 1292.9L1717.2 1295.0L1720.4 1297.1L1723.7 1299.2L1727.0 1301.2L1730.4 1303.1L1733.8 1304.9L1737.4 1306.6L1741.0 1308.2L1744.7 1309.6L1748.5 1310.9L1752.2 1312.1L1756.0 1313.3L1759.8 1314.4L1763.5 1315.4L1767.2 1316.5L1770.9 1317.6L1774.6 1318.8L1778.2 1320.1L1781.7 1321.6L1785.3 1323.1L1788.9 1324.7L1792.5 1326.2L1796.3 1327.6L1800.0 1328.9L1803.8 1330.1L1807.7 1331.3L1811.5 1332.3L1815.4 1333.4L1819.3 1334.4L1823.1 1335.5L1827.0 1336.5L1830.9 1337.5L1834.7 1338.5L1838.6 1339.5L1842.5 1340.6L1846.4 1341.6L1850.2 1342.6L1854.1 1343.6L1858.0 1344.7L1861.8 1345.6L1865.7 1346.6L1869.6 1347.5L1873.5 1348.4L1877.4 1349.2L1881.4 1350.0L1885.3 1350.8L1889.2 1351.6L1893.1 1352.4L1897.0 1353.1L1901.0 1353.9L1904.9 1354.7L1908.8 1355.5L1912.7 1356.3L1916.7 1357.0L1920.6 1357.8L1924.5 1358.5L1928.5 1359.1L1932.4 1359.8L1936.4 1360.4L1940.4 1361.0L1944.3 1361.5L1948.3 1362.1L1952.2 1362.7L1956.2 1363.2L1960.2 1363.7L1964.2 1364.1L1968.1 1364.5L1972.1 1364.9L1976.1 1365.3L1980.1 1365.6L1984.1 1366.0L1988.1 1366.3L1992.0 1366.7L1996.0 1367.1L2000.0 1367.4L2004.0 1367.7L2008.0 1368.0L2012.0 1368.3L2016.0 1368.5L2020.0 1368.7L2024.0 1368.9L2028.0 1369.0L2032.0 1369.1L2036.0 1369.2L2040.0 1369.3L2044.0 1369.4L2048.0 1369.6L2052.0 1369.7L2056.0 1369.8L2060.0 1369.9L2064.0 1370.0L2068.0 1370.2L2072.0 1370.3L2076.0 1370.4L2080.0 1370.5L2084.0 1370.5L2088.0 1370.6L2092.0 1370.7L2096.0 1370.7L2100.0 1370.8L2104.0 1370.8L2108.0 1370.9L2112.0 1370.9L2116.0 1371.0L2120.0 1371.0L2124.1 1371.1L2128.2 1371.1L2132.3 1371.2L2136.4 1371.2L2140.6 1371.3L2144.7 1371.3L2148.7 1371.4L2152.5 1371.4L2155.8 1371.4L2160.0 1371.5L2160.0 1371.5" stroke="#1010ee" stroke-width="9.5" fill="none" stroke-linejoin="round" stroke-linecap="butt"/><path d="M310.0 1366.3L314.2 1366.1L317.5 1365.9L321.2 1365.5L325.2 1365.1L329.3 1364.7L333.5 1364.2L337.6 1363.7L341.7 1363.2L345.7 1362.6L349.7 1362.0L353.7 1361.3L357.6 1360.6L361.6 1359.8L365.5 1359.1L369.4 1358.3L373.3 1357.5L377.3 1356.7L381.2 1355.9L385.1 1355.1L389.0 1354.4L393.0 1353.6L396.9 1352.9L400.8 1352.1L404.8 1351.4L408.7 1350.7L412.6 1349.9L416.6 1349.2L420.5 1348.5L424.5 1347.9L428.4 1347.2L432.4 1346.6L436.3 1346.1L440.3 1345.6L444.3 1345.2L448.3 1344.8L452.2 1344.4L456.2 1344.0L460.2 1343.6L464.2 1343.2L468.2 1342.9L472.2 1342.6L476.2 1342.3L480.2 1342.1L484.2 1342.0L488.2 1341.8L492.2 1341.7L496.2 1341.5L500.2 1341.4L504.2 1341.3L508.2 1341.2L512.2 1341.1L516.2 1341.1L520.2 1341.1L524.2 1341.2L528.2 1341.2L532.2 1341.3L536.2 1341.4L540.2 1341.4L544.2 1341.5L548.2 1341.6L552.2 1341.8L556.2 1341.9L560.2 1342.1L564.2 1342.3L568.2 1342.5L572.2 1342.8L576.2 1343.0L580.2 1343.2L584.2 1343.5L588.2 1343.7L592.1 1343.9L596.1 1344.1L600.1 1344.3L604.1 1344.4L608.1 1344.7L612.1 1344.9L616.1 1345.1L620.1 1345.4L624.1 1345.8L628.1 1346.1L632.1 1346.4L636.1 1346.6L640.1 1346.9L644.1 1347.1L648.1 1347.2L652.1 1347.4L656.1 1347.5L660.1 1347.7L664.0 1347.9L668.0 1348.1L672.0 1348.4L676.0 1348.7L680.0 1348.9L684.0 1349.1L688.0 1349.3L692.0 1349.4L696.0 1349.5L700.0 1349.5L704.0 1349.6L708.0 1349.7L712.0 1349.7L716.0 1349.8L720.0 1349.8L724.0 1349.8L728.0 1349.8L732.0 1349.7L736.0 1349.6L740.0 1349.5L744.0 1349.4L748.0 1349.2L752.0 1349.0L756.0 1348.8L760.0 1348.5L764.0 1348.1L767.9 1347.6L771.9 1346.9L775.8 1346.1L779.7 1345.2L783.6 1344.3L787.4 1343.2L791.3 1342.1L795.1 1340.9L798.9 1339.7L802.7 1338.5L806.5 1337.2L810.2 1335.8L813.9 1334.3L817.4 1332.8L820.9 1331.1L824.3 1329.3L827.6 1327.5L830.8 1325.5L833.9 1323.4L836.9 1321.1L840.0 1318.8L843.0 1316.4L846.2 1314.1L849.3 1311.7L852.5 1309.3L855.7 1306.9L858.8 1304.4L861.8 1301.9L864.8 1299.2L867.7 1296.4L870.6 1293.6L873.4 1290.8L876.3 1288.0L879.1 1285.3L882.0 1282.5L884.8 1279.7L887.4 1276.8L889.9 1273.8L892.2 1270.7L894.3 1267.4L896.2 1263.9L898.1 1260.4L899.9 1256.8L901.7 1253.2L903.6 1249.7L905.4 1246.1L907.3 1242.6L909.3 1239.1L911.2 1235.6L913.1 1232.1L915.0 1228.6L916.9 1225.0L918.9 1221.5L920.8 1218.0L922.8 1214.5L924.7 1211.1L926.7 1207.6L928.6 1204.1L930.6 1200.6L932.5 1197.1L934.5 1193.6L936.4 1190.1L938.3 1186.5L940.2 1183.0L942.1 1179.5L944.0 1176.0L945.8 1172.4L947.6 1168.8L949.3 1165.2L951.0 1161.6L952.6 1157.9L954.2 1154.2L955.7 1150.5L957.1 1146.8L958.6 1143.1L960.1 1139.4L961.6 1135.7L963.0 1131.9L964.5 1128.2L966.0 1124.5L967.6 1120.8L969.1 1117.1L970.6 1113.4L972.2 1109.7L973.7 1106.0L975.3 1102.3L976.8 1098.7L978.4 1095.0L980.0 1091.3L981.7 1087.7L983.3 1084.0L984.9 1080.4L986.6 1076.7L988.3 1073.1L990.0 1069.5L991.7 1065.8L993.4 1062.2L995.2 1058.6L997.0 1055.1L998.8 1051.5L1000.6 1047.9L1002.4 1044.4L1004.2 1040.8L1006.1 1037.3L1008.0 1033.7L1009.9 1030.2L1011.8 1026.7L1013.8 1023.2L1015.7 1019.7L1017.6 1016.2L1019.4 1012.6L1021.1 1009.0L1022.8 1005.4L1024.3 1001.7L1025.8 998.0L1027.2 994.2L1028.6 990.5L1030.0 986.7L1031.4 983.0L1032.8 979.2L1034.2 975.5L1035.6 971.7L1037.1 968.0L1038.6 964.3L1040.1 960.6L1041.6 956.9L1043.2 953.2L1044.8 949.5L1046.4 945.9L1048.1 942.2L1049.8 938.6L1051.5 935.0L1053.3 931.4L1055.2 927.9L1057.1 924.4L1059.1 921.0L1061.2 917.6L1063.3 914.2L1065.4 910.8L1067.5 907.4L1069.5 903.9L1071.4 900.4L1073.3 896.9L1075.0 893.3L1076.8 889.7L1078.5 886.1L1080.2 882.4L1081.9 878.8L1083.6 875.2L1085.4 871.6L1087.2 868.0L1089.0 864.5L1090.9 861.0L1092.9 857.5L1094.9 854.0L1096.9 850.6L1098.9 847.1L1101.0 843.7L1103.1 840.3L1105.1 836.8L1107.2 833.4L1109.4 830.0L1111.5 826.7L1113.7 823.3L1116.0 820.0L1118.2 816.7L1120.5 813.4L1122.9 810.2L1125.3 807.1L1127.9 804.0L1130.5 800.9L1133.1 797.9L1135.7 794.9L1138.2 791.9L1140.7 788.7L1143.0 785.5L1145.2 782.3L1147.5 779.0L1149.8 775.8L1152.2 772.7L1154.9 769.8L1157.7 767.1L1160.7 764.5L1163.8 762.0L1166.9 759.5L1170.1 757.0L1173.1 754.4L1176.1 751.8L1179.0 749.1L1181.9 746.3L1184.8 743.5L1187.7 740.8L1190.7 738.2L1193.8 735.7L1197.0 733.4L1200.4 731.3L1203.8 729.3L1207.4 727.5L1211.0 725.9L1214.7 724.3L1218.5 722.9L1222.3 721.5L1226.1 720.2L1229.9 719.0L1233.8 717.9L1237.7 717.0L1241.5 716.3L1245.4 715.9L1249.2 716.0L1253.1 716.4L1256.9 717.0L1260.8 718.0L1264.6 719.0L1268.4 720.2L1272.1 721.5L1275.8 722.8L1279.4 724.3L1282.8 725.9L1286.2 727.6L1289.6 729.3L1292.8 730.9L1296.1 732.5L1299.3 734.2L1302.5 736.0L1305.6 738.0L1308.7 740.3L1311.6 742.7L1314.4 745.3L1317.2 747.9L1319.9 750.6L1322.7 753.4L1325.5 756.1L1328.2 758.9L1330.9 761.8L1333.4 764.8L1335.7 767.9L1338.0 771.1L1340.2 774.3L1342.4 777.4L1344.6 780.4L1346.9 783.4L1349.1 786.3L1351.3 789.3L1353.5 792.5L1355.6 795.7L1357.7 799.0L1359.8 802.4L1361.9 805.8L1364.0 809.2L1366.3 812.5L1368.5 815.8L1370.8 819.1L1373.1 822.4L1375.4 825.7L1377.6 829.0L1379.7 832.4L1381.8 835.8L1383.8 839.2L1385.9 842.5L1388.2 845.8L1390.5 849.0L1392.9 852.0L1395.3 855.1L1397.8 858.1L1400.1 861.2L1402.4 864.3L1404.6 867.4L1406.8 870.5L1409.0 873.7L1411.1 876.9L1413.2 880.1L1415.2 883.5L1417.1 886.8L1419.1 890.3L1421.0 893.7L1423.1 897.1L1425.2 900.5L1427.3 903.8L1429.5 907.2L1431.6 910.5L1433.8 913.8L1435.9 917.2L1438.0 920.6L1440.1 924.0L1442.1 927.4L1444.1 930.9L1446.1 934.3L1448.2 937.7L1450.3 941.2L1452.4 944.5L1454.6 947.9L1456.8 951.3L1459.0 954.6L1461.2 957.9L1463.5 961.2L1465.8 964.5L1468.1 967.8L1470.4 971.1L1472.7 974.3L1475.0 977.6L1477.2 980.9L1479.4 984.2L1481.6 987.6L1483.6 991.0L1485.5 994.5L1487.4 998.0L1489.3 1001.5L1491.2 1005.0L1493.2 1008.5L1495.2 1011.9L1497.3 1015.2L1499.5 1018.6L1501.8 1021.9L1504.0 1025.2L1506.3 1028.5L1508.6 1031.7L1511.0 1034.9L1513.4 1038.1L1515.8 1041.3L1518.4 1044.4L1520.9 1047.5L1523.4 1050.6L1526.0 1053.6L1528.5 1056.8L1530.9 1060.0L1533.2 1063.2L1535.5 1066.5L1537.8 1069.8L1540.0 1073.0L1542.3 1076.3L1544.6 1079.4L1547.0 1082.4L1549.4 1085.3L1551.9 1088.0L1554.3 1090.8L1556.5 1093.6L1558.5 1096.5L1560.4 1099.6L1562.2 1102.7L1564.0 1105.9L1565.8 1109.2L1567.7 1112.4L1569.6 1115.6L1571.6 1118.7L1573.7 1121.7L1575.9 1124.7L1578.2 1127.5L1580.7 1130.3L1583.2 1133.0L1585.8 1135.6L1588.4 1138.2L1591.0 1141.0L1593.5 1143.8L1596.0 1146.7L1598.5 1149.6L1601.1 1152.4L1603.7 1155.2L1606.5 1157.8L1609.2 1160.4L1612.0 1163.0L1614.8 1165.5L1617.5 1168.1L1620.1 1170.8L1622.7 1173.6L1625.3 1176.4L1627.9 1179.2L1630.4 1182.0L1632.9 1184.9L1635.5 1187.6L1638.2 1190.2L1641.0 1192.7L1643.8 1195.1L1646.7 1197.5L1649.5 1200.0L1652.2 1202.7L1654.9 1205.6L1657.5 1208.5L1660.1 1211.5L1662.8 1214.5L1665.5 1217.3L1668.4 1220.1L1671.5 1222.7L1674.6 1225.2L1677.8 1227.6L1681.0 1230.0L1684.3 1232.3L1687.6 1234.5L1690.9 1236.8L1694.2 1239.0L1697.6 1241.2L1700.9 1243.4L1704.2 1245.6L1707.5 1247.9L1710.7 1250.3L1713.8 1252.8L1717.0 1255.2L1720.1 1257.8L1723.2 1260.3L1726.3 1262.9L1729.4 1265.4L1732.5 1267.9L1735.6 1270.4L1738.7 1273.0L1741.8 1275.5L1744.9 1278.0L1748.0 1280.5L1751.2 1283.0L1754.3 1285.4L1757.5 1287.9L1760.6 1290.4L1763.8 1292.8L1767.0 1295.2L1770.2 1297.6L1773.4 1300.0L1776.7 1302.4L1779.9 1304.7L1783.2 1307.0L1786.5 1309.2L1789.9 1311.2L1793.4 1313.1L1797.0 1314.9L1800.6 1316.5L1804.3 1318.0L1808.1 1319.4L1811.9 1320.7L1815.7 1321.9L1819.5 1323.1L1823.3 1324.3L1827.2 1325.5L1831.0 1326.6L1834.8 1327.7L1838.7 1328.9L1842.5 1330.0L1846.3 1331.2L1850.2 1332.3L1854.0 1333.5L1857.8 1334.6L1861.7 1335.7L1865.5 1336.8L1869.4 1337.9L1873.3 1338.9L1877.1 1339.9L1881.0 1340.9L1884.9 1341.8L1888.8 1342.8L1892.7 1343.7L1896.6 1344.6L1900.5 1345.4L1904.4 1346.2L1908.3 1347.0L1912.3 1347.8L1916.2 1348.6L1920.1 1349.3L1924.1 1350.0L1928.0 1350.7L1932.0 1351.4L1935.9 1352.1L1939.9 1352.8L1943.8 1353.4L1947.7 1354.1L1951.7 1354.9L1955.6 1355.8L1959.4 1356.7L1963.3 1357.6L1967.2 1358.6L1971.0 1359.5L1974.9 1360.3L1978.9 1361.0L1982.8 1361.7L1986.7 1362.2L1990.7 1362.7L1994.7 1363.2L1998.7 1363.7L2002.6 1364.2L2006.6 1364.7L2010.6 1365.2L2014.6 1365.7L2018.5 1366.1L2022.5 1366.6L2026.5 1367.1L2030.4 1367.6L2034.4 1368.1L2038.4 1368.6L2042.4 1369.1L2046.3 1369.6L2050.3 1370.1L2054.3 1370.5L2058.3 1371.0L2062.2 1371.4L2066.2 1371.8L2070.2 1372.2L2074.2 1372.6L2078.2 1373.0L2082.2 1373.4L2086.1 1373.8L2090.1 1374.1L2094.1 1374.5L2098.1 1374.8L2102.1 1375.1L2106.1 1375.4L2110.1 1375.7L2114.1 1376.0L2118.1 1376.2L2122.1 1376.5L2126.2 1376.7L2130.3 1377.0L2134.4 1377.3L2138.6 1377.6L2142.7 1377.8L2146.8 1378.1L2150.7 1378.4L2154.2 1378.6L2157.3 1378.8L2160.0 1379.0" stroke="#f010f0" stroke-width="9.5" fill="none" stroke-linejoin="round" stroke-linecap="butt"/><path d="M310.0 1339.0L314.2 1338.9L317.5 1338.6L321.2 1338.2L325.2 1337.7L329.3 1337.2L333.4 1336.5L337.5 1335.9L341.5 1335.1L345.5 1334.4L349.5 1333.6L353.4 1332.8L357.4 1331.9L361.3 1331.0L365.1 1330.0L369.0 1329.0L372.9 1328.0L376.8 1327.0L380.7 1326.0L384.5 1325.1L388.4 1324.1L392.3 1323.1L396.2 1322.2L400.1 1321.3L404.0 1320.5L407.9 1319.7L411.9 1319.0L415.8 1318.4L419.8 1317.7L423.7 1317.2L427.7 1316.6L431.7 1316.1L435.6 1315.6L439.6 1315.2L443.6 1314.7L447.6 1314.4L451.6 1314.0L455.6 1313.7L459.6 1313.5L463.5 1313.4L467.5 1313.3L471.5 1313.2L475.5 1313.2L479.5 1313.3L483.6 1313.3L487.6 1313.4L491.6 1313.4L495.6 1313.5L499.6 1313.6L503.6 1313.7L507.6 1313.8L511.6 1313.9L515.6 1314.0L519.6 1314.1L523.6 1314.2L527.6 1314.3L531.6 1314.5L535.6 1314.7L539.6 1314.9L543.5 1315.2L547.5 1315.5L551.5 1315.8L555.5 1316.2L559.5 1316.6L563.5 1317.0L567.5 1317.4L571.4 1317.7L575.4 1318.0L579.4 1318.4L583.4 1318.7L587.4 1319.0L591.4 1319.3L595.4 1319.6L599.4 1319.9L603.4 1320.3L607.4 1320.6L611.3 1320.9L615.3 1321.3L619.3 1321.7L623.2 1322.2L627.2 1322.7L631.1 1323.2L635.0 1323.7L639.0 1324.2L642.9 1324.7L646.9 1325.1L650.9 1325.5L654.9 1325.9L658.8 1326.3L662.8 1326.6L666.8 1326.9L670.8 1327.2L674.8 1327.4L678.8 1327.6L682.8 1327.8L686.8 1328.1L690.8 1328.3L694.7 1328.6L698.7 1328.9L702.7 1329.2L706.7 1329.5L710.7 1329.8L714.7 1330.1L718.7 1330.4L722.7 1330.6L726.7 1330.8L730.7 1330.9L734.7 1330.9L738.7 1330.9L742.7 1330.8L746.7 1330.6L750.7 1330.4L754.7 1330.2L758.7 1329.9L762.7 1329.5L766.6 1329.1L770.6 1328.7L774.6 1328.2L778.5 1327.6L782.4 1327.0L786.2 1326.2L790.1 1325.3L793.9 1324.3L797.7 1323.2L801.5 1322.1L805.3 1321.0L809.1 1319.8L812.9 1318.6L816.7 1317.3L820.5 1316.0L824.2 1314.5L827.9 1312.9L831.5 1311.2L834.9 1309.3L838.3 1307.2L841.7 1305.0L844.9 1302.7L848.1 1300.3L851.3 1298.0L854.5 1295.6L857.6 1293.1L860.7 1290.6L863.8 1288.0L866.8 1285.4L869.8 1282.8L872.8 1280.2L875.9 1277.6L878.9 1275.0L882.0 1272.5L884.9 1269.9L887.8 1267.2L890.6 1264.4L893.1 1261.4L895.6 1258.3L897.9 1255.1L900.2 1251.8L902.4 1248.4L904.6 1245.1L906.7 1241.7L908.9 1238.3L911.1 1235.0L913.3 1231.7L915.6 1228.4L917.9 1225.1L920.2 1221.9L922.6 1218.6L924.9 1215.4L927.2 1212.1L929.5 1208.8L931.6 1205.4L933.7 1202.1L935.8 1198.6L937.8 1195.2L939.9 1191.7L941.8 1188.2L943.8 1184.7L945.7 1181.2L947.5 1177.7L949.4 1174.1L951.2 1170.6L953.0 1167.0L954.8 1163.4L956.6 1159.8L958.4 1156.3L960.3 1152.7L962.2 1149.2L964.1 1145.7L966.0 1142.2L968.0 1138.7L969.9 1135.2L971.9 1131.7L973.8 1128.2L975.7 1124.7L977.6 1121.2L979.5 1117.6L981.4 1114.1L983.2 1110.6L985.1 1107.0L987.0 1103.5L988.8 1099.9L990.7 1096.4L992.6 1092.9L994.5 1089.3L996.4 1085.8L998.3 1082.3L1000.2 1078.8L1002.2 1075.3L1004.2 1071.8L1006.2 1068.4L1008.4 1065.0L1010.6 1061.7L1012.9 1058.5L1015.3 1055.3L1017.7 1052.1L1020.1 1048.9L1022.5 1045.7L1024.7 1042.4L1026.9 1039.0L1028.9 1035.6L1030.9 1032.1L1032.8 1028.6L1034.7 1025.1L1036.5 1021.5L1038.3 1017.9L1040.1 1014.4L1041.9 1010.8L1043.7 1007.2L1045.5 1003.6L1047.3 1000.1L1049.1 996.5L1051.0 993.0L1052.9 989.5L1054.9 986.0L1057.0 982.5L1059.1 979.2L1061.3 975.8L1063.6 972.6L1066.0 969.4L1068.5 966.3L1071.1 963.3L1073.7 960.3L1076.2 957.2L1078.7 954.1L1081.0 950.9L1083.1 947.6L1085.0 944.1L1086.8 940.6L1088.6 937.0L1090.5 933.5L1092.5 930.1L1094.6 926.7L1096.9 923.5L1099.4 920.3L1101.9 917.3L1104.4 914.2L1107.0 911.1L1109.6 908.0L1112.1 904.9L1114.6 901.8L1117.1 898.7L1119.6 895.5L1122.1 892.4L1124.6 889.3L1127.1 886.2L1129.7 883.1L1132.2 880.0L1134.6 876.8L1137.0 873.6L1139.3 870.4L1141.6 867.2L1143.9 863.9L1146.2 860.7L1148.7 857.6L1151.3 854.7L1154.0 851.8L1156.9 849.1L1159.9 846.4L1163.0 843.9L1166.1 841.4L1169.3 839.0L1172.5 836.6L1175.8 834.3L1179.1 832.0L1182.4 829.8L1185.8 827.6L1189.2 825.5L1192.6 823.4L1196.1 821.4L1199.6 819.5L1203.2 817.7L1206.8 816.0L1210.4 814.4L1214.1 812.9L1217.9 811.4L1221.7 810.0L1225.5 808.7L1229.3 807.3L1233.1 806.0L1236.9 804.7L1240.7 803.6L1244.4 802.8L1248.1 802.4L1251.8 802.4L1255.4 803.1L1259.0 804.2L1262.5 805.6L1266.1 807.3L1269.6 809.1L1273.2 810.8L1276.9 812.4L1280.5 813.9L1284.2 815.3L1287.9 816.7L1291.6 818.2L1295.1 819.8L1298.6 821.6L1302.0 823.6L1305.3 825.7L1308.6 828.0L1311.9 830.3L1315.1 832.6L1318.4 834.9L1321.6 837.3L1324.8 839.6L1327.9 842.1L1330.9 844.6L1333.8 847.1L1336.6 849.8L1339.3 852.5L1341.9 855.4L1344.4 858.2L1347.0 861.2L1349.6 864.1L1352.2 867.1L1354.9 870.0L1357.5 873.0L1360.1 876.0L1362.8 879.0L1365.4 882.0L1368.0 885.0L1370.6 887.9L1373.3 890.9L1375.8 893.9L1378.4 896.9L1380.9 899.9L1383.4 903.1L1385.9 906.2L1388.3 909.3L1390.8 912.5L1393.1 915.6L1395.3 918.7L1397.4 921.8L1399.5 924.9L1401.5 927.9L1403.6 930.9L1405.7 933.9L1407.9 936.9L1410.2 940.0L1412.4 943.2L1414.7 946.4L1417.0 949.7L1419.2 953.0L1421.5 956.4L1423.7 959.7L1425.9 963.1L1428.1 966.4L1430.4 969.7L1432.6 973.0L1434.9 976.3L1437.2 979.6L1439.5 982.8L1441.8 986.1L1444.1 989.4L1446.5 992.6L1448.8 995.9L1451.2 999.1L1453.6 1002.3L1456.0 1005.4L1458.5 1008.5L1461.1 1011.5L1463.6 1014.6L1466.2 1017.6L1468.7 1020.7L1471.2 1023.8L1473.7 1026.9L1476.2 1030.0L1478.7 1033.2L1481.1 1036.3L1483.6 1039.4L1486.1 1042.5L1488.6 1045.6L1491.1 1048.6L1493.6 1051.7L1496.0 1054.9L1498.4 1058.1L1500.8 1061.3L1503.2 1064.5L1505.6 1067.6L1507.9 1070.8L1510.2 1073.8L1512.6 1076.7L1515.0 1079.4L1517.4 1082.1L1520.0 1084.6L1522.5 1087.2L1525.0 1089.9L1527.3 1092.7L1529.6 1095.7L1531.9 1098.7L1534.2 1101.9L1536.6 1105.0L1539.1 1108.1L1541.7 1111.1L1544.4 1114.0L1547.2 1116.7L1549.9 1119.3L1552.6 1121.7L1555.1 1124.1L1557.6 1126.5L1560.0 1128.9L1562.2 1131.6L1564.5 1134.4L1566.8 1137.2L1569.3 1140.1L1571.8 1142.8L1574.5 1145.5L1577.2 1148.0L1580.0 1150.6L1582.7 1153.3L1585.4 1156.0L1588.0 1158.8L1590.7 1161.7L1593.3 1164.7L1596.0 1167.6L1598.6 1170.5L1601.3 1173.3L1604.0 1176.0L1606.7 1178.6L1609.4 1181.1L1612.2 1183.4L1615.0 1185.8L1617.8 1188.2L1620.5 1190.6L1623.2 1193.2L1625.8 1195.9L1628.3 1198.5L1630.9 1201.1L1633.6 1203.7L1636.4 1206.2L1639.3 1208.7L1642.3 1211.2L1645.3 1213.7L1648.4 1216.1L1651.5 1218.6L1654.6 1221.0L1657.6 1223.3L1660.6 1225.7L1663.6 1228.1L1666.6 1230.4L1669.6 1232.7L1672.7 1234.9L1676.0 1237.1L1679.3 1239.1L1682.7 1241.0L1686.0 1243.0L1689.2 1245.1L1692.3 1247.2L1695.3 1249.4L1698.2 1251.5L1701.0 1253.5L1703.9 1255.4L1706.9 1257.1L1709.9 1258.8L1712.9 1260.5L1715.9 1262.3L1718.9 1264.3L1722.0 1266.2L1725.1 1268.1L1728.3 1270.0L1731.6 1271.8L1735.0 1273.5L1738.4 1275.3L1741.8 1277.1L1745.3 1278.9L1748.9 1280.7L1752.5 1282.5L1756.1 1284.2L1759.7 1285.9L1763.4 1287.5L1767.0 1289.2L1770.7 1290.8L1774.3 1292.4L1778.0 1294.0L1781.7 1295.6L1785.4 1297.0L1789.1 1298.5L1792.8 1299.9L1796.5 1301.2L1800.2 1302.5L1803.9 1303.8L1807.6 1304.9L1811.4 1306.0L1815.2 1307.1L1819.0 1308.1L1822.7 1309.1L1826.5 1310.1L1830.2 1311.2L1834.0 1312.2L1837.6 1313.2L1841.2 1314.2L1844.8 1315.1L1848.3 1315.9L1851.8 1316.8L1855.3 1317.8L1858.8 1318.9L1862.3 1320.2L1865.9 1321.7L1869.5 1323.1L1873.1 1324.6L1876.9 1325.9L1880.7 1327.1L1884.5 1328.2L1888.4 1329.2L1892.3 1330.3L1896.2 1331.3L1900.1 1332.3L1903.9 1333.2L1907.8 1334.2L1911.7 1335.1L1915.6 1335.9L1919.6 1336.8L1923.5 1337.6L1927.4 1338.4L1931.3 1339.2L1935.2 1340.0L1939.2 1340.8L1943.1 1341.6L1947.0 1342.4L1950.9 1343.3L1954.8 1344.1L1958.7 1345.0L1962.6 1345.8L1966.6 1346.6L1970.5 1347.3L1974.4 1347.9L1978.4 1348.4L1982.4 1348.9L1986.4 1349.3L1990.3 1349.7L1994.3 1350.1L1998.3 1350.5L2002.3 1350.9L2006.3 1351.3L2010.3 1351.7L2014.2 1352.1L2018.2 1352.5L2022.2 1352.9L2026.2 1353.3L2030.2 1353.7L2034.2 1354.1L2038.1 1354.5L2042.1 1354.8L2046.1 1355.2L2050.1 1355.5L2054.1 1355.9L2058.1 1356.1L2062.1 1356.4L2066.1 1356.6L2070.1 1356.8L2074.1 1357.0L2078.0 1357.2L2082.0 1357.4L2086.0 1357.6L2090.0 1357.8L2094.0 1358.0L2098.0 1358.2L2102.0 1358.4L2106.0 1358.6L2110.0 1358.8L2114.0 1359.0L2118.1 1359.2L2122.1 1359.4L2126.1 1359.6L2130.2 1359.8L2134.4 1360.0L2138.5 1360.2L2142.7 1360.4L2146.8 1360.6L2150.7 1360.8L2154.2 1360.9L2157.3 1361.1L2160.0 1361.2" stroke="#117a11" stroke-width="9.5" fill="none" stroke-linejoin="round" stroke-linecap="butt"/></g>
<rect x="1397" y="42" width="756.5" height="100.7" fill="#000"/><text x="1406" y="118.7" font-family="'Liberation Serif', 'Times New Roman', serif" font-size="67.1" fill="#fff">Heat treatment atmosphere</text>
<g font-family="'Liberation Serif', 'Times New Roman', serif" font-weight="bold" font-size="75" fill="#000"><text x="267.5" y="1427.0" text-anchor="end">0</text><text x="267.5" y="1233.2" text-anchor="end">100</text><text x="267.5" y="1039.4" text-anchor="end">200</text><text x="267.5" y="845.6" text-anchor="end">300</text><text x="267.5" y="651.7" text-anchor="end">400</text><text x="267.5" y="457.9" text-anchor="end">500</text><text x="267.5" y="264.1" text-anchor="end">600</text><text x="267.5" y="70.3" text-anchor="end">700</text><text x="483.0" y="1508" text-anchor="middle">400</text><text x="902.6" y="1508" text-anchor="middle">450</text><text x="1322.2" y="1508" text-anchor="middle">500</text><text x="1741.8" y="1508" text-anchor="middle">550</text><text x="2161.4" y="1508" text-anchor="middle">600</text></g>
<text x="969" y="1628.5" font-family="'Liberation Serif', 'Times New Roman', serif" font-weight="bold" font-size="74" textLength="537" lengthAdjust="spacingAndGlyphs">Wavelength (nm)</text><text transform="translate(72 957.5) rotate(-90)" font-family="'Liberation Serif', 'Times New Roman', serif" font-weight="bold" font-size="75" textLength="463" lengthAdjust="spacingAndGlyphs">Intensity (a.u.)</text>
<text x="1526.5" y="387.5" font-family="'Liberation Serif', 'Times New Roman', serif" font-weight="bold" font-size="53.8">phosphor</text><text x="1524" y="514.6" font-family="'Liberation Serif', 'Times New Roman', serif" font-weight="bold" font-size="55">TiO</text><text x="1616.5" y="531.7" font-family="'Liberation Serif', 'Times New Roman', serif" font-weight="bold" font-size="55">2</text><text x="1643.5" y="514.6" font-family="'Liberation Serif', 'Times New Roman', serif" font-weight="bold" font-size="55">-phosphor</text><text x="1524" y="662.7" font-family="'Liberation Serif', 'Times New Roman', serif" font-weight="bold" font-size="55">Ag-TiO</text><text x="1701" y="680" font-family="'Liberation Serif', 'Times New Roman', serif" font-weight="bold" font-size="55">2</text><text x="1727.5" y="662.7" font-family="'Liberation Serif', 'Times New Roman', serif" font-weight="bold" font-size="55">-phosphor</text><text x="1980" y="664" font-family="'Liberation Serif', 'Times New Roman', serif" font-weight="normal" font-size="45">(</text><text x="1996" y="662.2" font-family="'Liberation Serif', 'Times New Roman', serif" font-weight="normal" font-size="52">N</text><text x="2034" y="680" font-family="'Liberation Serif', 'Times New Roman', serif" font-weight="bold" font-size="55">2</text><text x="2059.5" y="664" font-family="'Liberation Serif', 'Times New Roman', serif" font-weight="normal" font-size="45">)</text><text x="1555" y="752.2" font-family="'Liberation Serif', 'Times New Roman', serif" font-weight="bold" font-size="48">Ag-TiO</text><text x="1712.5" y="775.4" font-family="'Liberation Serif', 'Times New Roman', serif" font-weight="bold" font-size="48">2</text><text x="1736.5" y="752.2" font-family="'Liberation Serif', 'Times New Roman', serif" font-weight="bold" font-size="48">-phosphor</text><text x="1964" y="753.5" font-family="'Liberation Serif', 'Times New Roman', serif" font-weight="normal" font-size="49">(</text><text x="1980.5" y="752.4" font-family="'Liberation Serif', 'Times New Roman', serif" font-weight="normal" font-size="48">N</text><text x="2013" y="790.2" font-family="'Liberation Serif', 'Times New Roman', serif" font-weight="bold" font-size="48">2</text><text x="2037" y="752.2" font-family="'Liberation Serif', 'Times New Roman', serif" font-weight="bold" font-size="48">-H</text><text x="2091.5" y="790.2" font-family="'Liberation Serif', 'Times New Roman', serif" font-weight="bold" font-size="48">2</text><text x="2115" y="751" font-family="'Liberation Serif', 'Times New Roman', serif" font-weight="normal" font-size="51">)</text><text x="1597.5" y="839.3" font-family="'Liberation Serif', 'Times New Roman', serif" font-weight="bold" font-size="54">Ag-TiO</text><text x="1773" y="855.5" font-family="'Liberation Serif', 'Times New Roman', serif" font-weight="bold" font-size="54">2</text><text x="1798.5" y="839.3" font-family="'Liberation Serif', 'Times New Roman', serif" font-weight="bold" font-size="54">-phosphor</text><text x="2052.5" y="840" font-family="'Liberation Serif', 'Times New Roman', serif" font-weight="normal" font-size="44">(</text><text x="2067" y="839.2" font-family="'Liberation Serif', 'Times New Roman', serif" font-weight="bold" font-size="54">air</text><text x="2132" y="840" font-family="'Liberation Serif', 'Times New Roman', serif" font-weight="normal" font-size="44">)</text>
<path d="M1512.7 382.7 L1412.2 438.9" stroke="#000" stroke-width="4.5" fill="none"/><path d="M1386.0 453.5 L1410.2 429.1 L1419.4 445.7 Z" fill="#000"/><path d="M1519.0 503.4 L1429.1 550.7" stroke="#000" stroke-width="4.5" fill="none"/><path d="M1402.6 564.7 L1427.4 540.9 L1436.2 557.7 Z" fill="#000"/><path d="M1516.3 641.5 L1331.4 720.1" stroke="#000" stroke-width="4.5" fill="none"/><path d="M1303.8 731.8 L1330.5 710.2 L1337.9 727.6 Z" fill="#000"/><path d="M1539.5 749.0 L1354.2 824.9" stroke="#000" stroke-width="4.5" fill="none"/><path d="M1326.4 836.3 L1353.3 815.0 L1360.5 832.6 Z" fill="#000"/><path d="M1595.5 832.0 L1370.2 949.6" stroke="#000" stroke-width="4.5" fill="none"/><path d="M1343.6 963.5 L1368.5 939.8 L1377.3 956.7 Z" fill="#000"/>
</svg>
</body></html>
